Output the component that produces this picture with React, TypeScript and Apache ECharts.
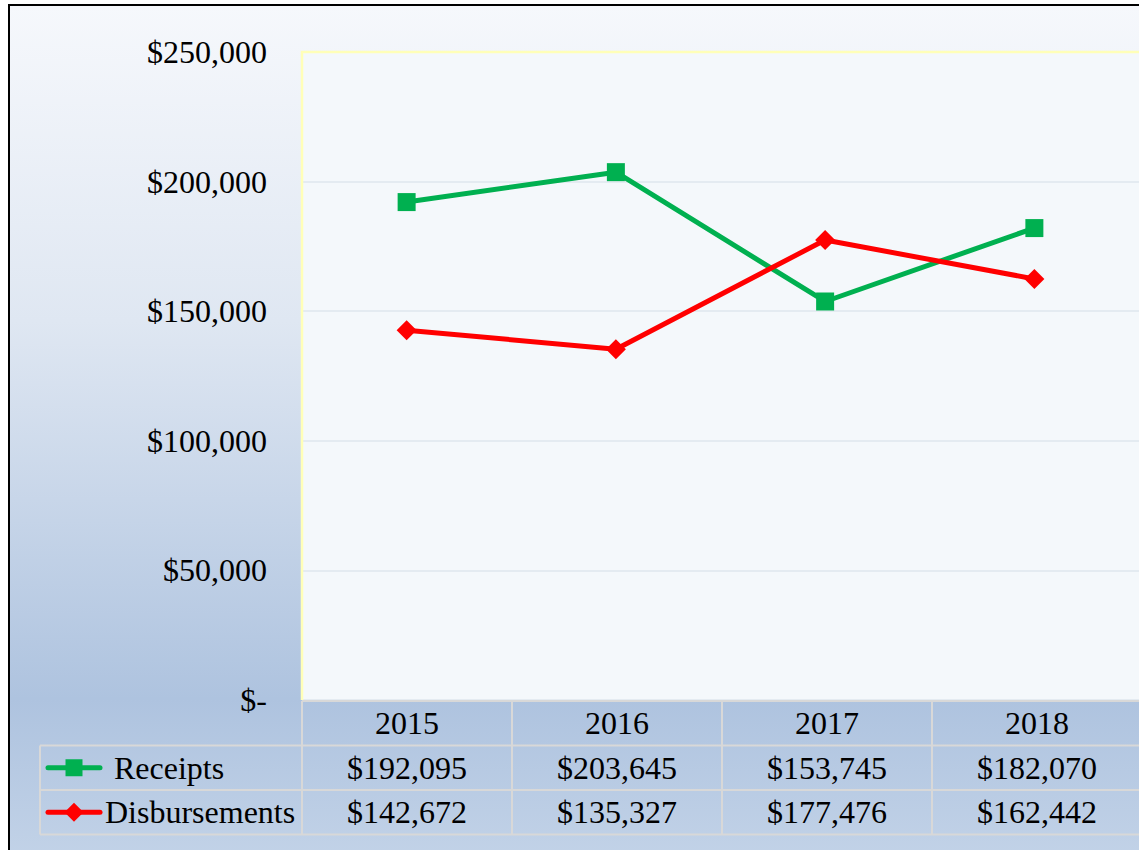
import React, { useEffect, useRef } from "react";
import * as echarts from "echarts";

const years = ["2015", "2016", "2017", "2018"];
const receipts = [192095, 203645, 153745, 182070];
const disbursements = [142672, 135327, 177476, 162442];
const seriesNames = ["Receipts", "Disbursements"];
const seriesColors = ["#00b050", "#ff0000"];

const FONT = "'Liberation Serif', 'Times New Roman', serif";
const GRID_L = 302;
const GRID_T = 52;
const COL_W = 210;
const GRID_W = COL_W * years.length;
const GRID_B = 700;
const ROW_H = 44.5;
const LEGEND_L = 40;

const money = (v: number) => "$" + v.toLocaleString("en-US");

export default function App() {
  const ref = useRef<HTMLDivElement>(null);
  useEffect(() => {
    if (!ref.current) return;
    const chart = echarts.init(ref.current, null, { renderer: "svg" });
    const lineColor = "#d8d8d8";
    const graphics: any[] = [];
    const tableRight = GRID_L + GRID_W;
    graphics.push({ type: "line", shape: { x1: GRID_L, y1: GRID_B + 1, x2: tableRight, y2: GRID_B + 1 }, style: { stroke: lineColor, lineWidth: 2 }, z: 20 });
    for (let r = 1; r <= 3; r++) {
      const y = GRID_B + 1 + r * ROW_H;
      graphics.push({ type: "line", shape: { x1: LEGEND_L, y1: y, x2: tableRight, y2: y }, style: { stroke: lineColor, lineWidth: 2 }, z: 20 });
    }
    graphics.push({ type: "line", shape: { x1: LEGEND_L, y1: GRID_B + 1 + ROW_H, x2: LEGEND_L, y2: GRID_B + 1 + 3 * ROW_H }, style: { stroke: lineColor, lineWidth: 2 }, z: 20 });
    for (let c = 0; c <= years.length; c++) {
      const x = GRID_L + c * COL_W;
      graphics.push({ type: "line", shape: { x1: x, y1: GRID_B + 1, x2: x, y2: GRID_B + 1 + 3 * ROW_H }, style: { stroke: lineColor, lineWidth: 2 }, z: 20 });
    }
    // yellow plot-area border (top and left)
    graphics.push({ type: "polyline", shape: { points: [[GRID_L, GRID_B], [GRID_L, GRID_T], [tableRight, GRID_T]] }, style: { stroke: "#ffffb8", lineWidth: 2.5, fill: "none" }, z: 19 });
    const rows = [receipts, disbursements];
    years.forEach((yr, i) => {
      const cx = GRID_L + COL_W * (i + 0.5);
      graphics.push({ type: "text", x: cx, y: GRID_B + 1 + ROW_H * 0.5, style: { text: yr, font: `32px ${FONT}`, fill: "#000", align: "center", verticalAlign: "middle" }, z: 21 });
      rows.forEach((arr, r) => {
        graphics.push({ type: "text", x: cx, y: GRID_B + 1 + ROW_H * (r + 1.5), style: { text: money(arr[i]), font: `32px ${FONT}`, fill: "#000", align: "center", verticalAlign: "middle" }, z: 21 });
      });
    });
    const textX = [114, 105];
    seriesNames.forEach((nm, r) => {
      const y = GRID_B + 1 + ROW_H * (r + 1.5);
      graphics.push({ type: "line", shape: { x1: 48, y1: y, x2: 100, y2: y }, style: { stroke: seriesColors[r], lineWidth: 5, lineCap: "round" }, z: 21 });
      if (r === 0) {
        graphics.push({ type: "rect", shape: { x: 74 - 8.5, y: y - 8.5, width: 17, height: 17 }, style: { fill: seriesColors[r] }, z: 22 });
      } else {
        graphics.push({ type: "polygon", shape: { points: [[74, y - 9.5], [83.5, y], [74, y + 9.5], [64.5, y]] }, style: { fill: seriesColors[r] }, z: 22 });
      }
      graphics.push({ type: "text", x: textX[r], y, style: { text: nm, font: `32px ${FONT}`, fill: "#000", align: "left", verticalAlign: "middle" }, z: 21 });
    });

    chart.setOption({
      animation: false,
      backgroundColor: "transparent",
      grid: {
        left: GRID_L,
        top: GRID_T,
        width: GRID_W,
        height: GRID_B - GRID_T,
        show: true,
        backgroundColor: "#f4f8fb",
        borderWidth: 0,
      },
      xAxis: {
        type: "category",
        data: years,
        boundaryGap: true,
        axisLine: { show: false },
        axisTick: { show: false },
        axisLabel: { show: false },
      },
      yAxis: {
        type: "value",
        min: 0,
        max: 250000,
        interval: 50000,
        axisLine: { show: false },
        axisTick: { show: false },
        splitLine: { lineStyle: { color: "#dfe7ee", width: 1.5 } },
        axisLabel: {
          margin: 35,
          color: "#000",
          fontFamily: FONT,
          fontSize: 32,
          formatter: (v: number) => (v === 0 ? "$-" : money(v)),
        },
      },
      series: [
        {
          name: seriesNames[0],
          type: "line",
          data: receipts,
          symbol: "rect",
          symbolSize: 18,
          lineStyle: { color: seriesColors[0], width: 5 },
          itemStyle: { color: seriesColors[0] },
          z: 3,
        },
        {
          name: seriesNames[1],
          type: "line",
          data: disbursements,
          symbol: "diamond",
          symbolSize: 20,
          lineStyle: { color: seriesColors[1], width: 5 },
          itemStyle: { color: seriesColors[1] },
          z: 4,
        },
      ],
      graphic: graphics,
    });
    return () => chart.dispose();
  }, []);

  return (
    <div style={{ position: "fixed", left: 0, top: 0, width: 1139, height: 850, background: "#fff", overflow: "hidden" }}>
      <div
        style={{
          position: "absolute",
          left: 8,
          top: 4,
          width: 1200,
          height: 900,
          border: "2px solid #000",
          background: "linear-gradient(to bottom, #f6f8fc 0%, #dfe7f2 35%, #aec3df 77%, #c8d7ea 100%)",
        }}
      />
      <div ref={ref} style={{ position: "absolute", left: 0, top: 0, width: 1139, height: 850 }} />
    </div>
  );
}
